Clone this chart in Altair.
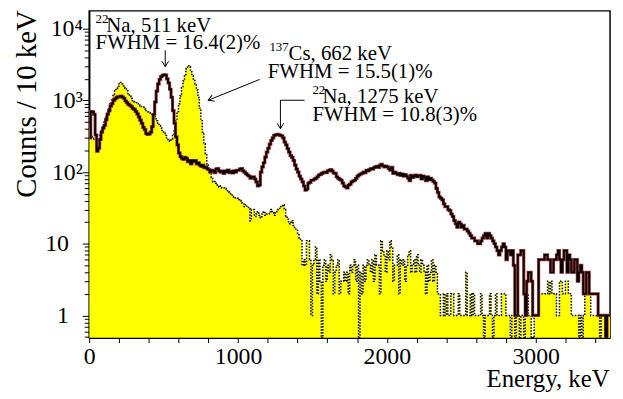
import altair as alt
import pandas as pd

# ---------------- data (10 keV bins, 0-3500 keV) ----------------
bin_width = 10

na22_counts = [
    300, 700, 690, 640, 330, 195, 215, 285, 360, 410,
    450, 540, 640, 720, 830, 900, 1000, 1050, 1090, 1120,
    1130, 1150, 1110, 1070, 980, 930, 880, 850, 820, 770,
    750, 700, 650, 590, 530, 480, 420, 390, 345, 335,
    340, 360, 430, 640, 950, 1350, 1700, 1960, 2150, 2240,
    2280, 2250, 2000, 1750, 1430, 1100, 720, 480, 310, 240,
    185, 165, 155, 150, 160, 155, 140, 145, 130, 145,
    140, 145, 130, 135, 125, 120, 125, 115, 118, 112,
    108, 100, 106, 104, 98, 110, 112, 104, 100, 103,
    96, 104, 100, 107, 98, 102, 97, 104, 100, 106,
    106, 110, 112, 104, 100, 95, 91, 88, 82, 85,
    86, 80, 73, 64, 66, 100, 118, 135, 162, 190,
    215, 245, 276, 300, 324, 330, 335, 332, 325, 320,
    300, 262, 240, 212, 190, 170, 160, 145, 125, 110,
    100, 88, 80, 73, 64, 56, 58, 70, 72, 77,
    77, 80, 82, 86, 91, 93, 96, 98, 100, 98,
    104, 106, 108, 103, 97, 96, 86, 82, 79, 77,
    70, 64, 62, 60, 66, 68, 73, 75, 77, 82,
    88, 91, 94, 96, 100, 98, 106, 104, 108, 112,
    110, 115, 118, 120, 116, 124, 128, 122, 118, 121,
    118, 112, 106, 116, 96, 100, 96, 92, 96, 90,
    94, 88, 92, 88, 82, 76, 90, 84, 88, 91,
    86, 88, 90, 80, 88, 84, 76, 86, 78, 82,
    78, 74, 70, 59, 52, 45, 43, 41, 36, 33,
    33, 30, 29, 26, 24, 21, 19, 17, 20, 19,
    17, 18, 16, 16, 15, 14, 13, 12, 12, 11,
    11, 10, 10, 11, 12, 13, 14, 12, 14, 13,
    12, 11, 10, 9, 8, 7, 8, 9, 10, 9,
    6, 8, 8, 7, 8, 5, 1, 1, 7, 7,
    8, 8, 2, 1, 3, 4, 4, 3, 1, 1,
    1, 1, 6, 6, 6, 6, 7, 7, 6, 6,
    4, 4, 6, 6, 7, 8, 6, 4, 6, 8,
    8, 4, 7, 6, 4, 4, 6, 6, 3, 4,
    5, 4, 2, 2, 4, 4, 2, 2, 2, 2,
    2, 2, 1, 1, 1, 1, 1, 0, 1, 1,
]

cs137_counts = [
    420, 330, 300, 290, 285, 280, 295, 330, 380, 430,
    500, 580, 680, 790, 900, 1050, 1200, 1350, 1450, 1580,
    1700, 1770, 1700, 1600, 1480, 1360, 1250, 1150, 1060, 990,
    960, 930, 900, 860, 840, 820, 800, 760, 720, 690,
    675, 660, 640, 620, 590, 520, 480, 445, 410, 380,
    350, 324, 300, 275, 270, 290, 324, 400, 520, 700,
    900, 1150, 1500, 1860, 2300, 2750, 3050, 2950, 2500, 2200,
    1900, 1700, 1400, 1100, 780, 521, 360, 248, 180, 131,
    110, 96, 84, 73, 74, 70, 66, 62, 64, 60,
    60, 59, 55, 53, 52, 50, 48, 45, 44, 43,
    41, 40, 37, 36, 33, 35, 32, 31, 21, 30,
    30, 24, 26, 28, 25, 23, 26, 28, 25, 26,
    26, 28, 30, 27, 25, 28, 30, 31, 33, 34,
    35, 30, 24, 22, 19, 20, 21, 18, 16, 16,
    14, 12, 11, 5, 6, 5, 11, 11, 6, 1,
    5, 6, 9, 2, 6, 3, 0, 5, 6, 3,
    5, 4, 7, 6, 2, 4, 5, 6, 2, 3,
    3, 4, 3, 4, 2, 5, 4, 5, 6, 3,
    5, 0, 4, 2, 5, 3, 5, 6, 5, 4,
    6, 3, 7, 5, 5, 2, 11, 8, 7, 4,
    8, 6, 11, 9, 3, 5, 5, 7, 2, 6,
    5, 6, 3, 5, 7, 8, 4, 5, 6, 4,
    7, 5, 4, 6, 5, 4, 2, 5, 3, 4,
    6, 3, 5, 4, 2, 2, 1, 1, 2, 1,
    2, 1, 1, 2, 2, 1, 1, 1, 2, 1,
    1, 1, 1, 4, 1, 1, 2, 1, 2, 1,
    1, 1, 1, 2, 1, 0, 1, 1, 1, 2,
    1, 0, 1, 2, 1, 1, 1, 2, 2, 2,
    1, 1, 1, 0, 1, 1, 0, 1, 1, 0,
    1, 1, 0, 1, 2, 1, 1, 0, 0, 1,
    1, 1, 2, 2, 2, 2, 2, 2, 3, 2,
    3, 2, 2, 2, 1, 1, 3, 3, 2, 2,
    3, 3, 2, 2, 1, 1, 1, 1, 1, 0,
    1, 0, 1, 2, 2, 2, 2, 1, 1, 1,
    1, 1, 1, 0, 1, 1, 1, 0, 1, 1,
]

# annotations: main text lines
ann_text = ["Na, 511 keV", "FWHM = 16.4(2)%", "Cs, 662 keV",
            "FWHM = 15.5(1)%", "Na, 1275 keV", "FWHM = 10.8(3)%"]
ann_x = [115, 43, 1340, 1200, 1567, 1500]
ann_y = [9100, 5250, 3700, 2060, 931, 509]
# superscript mass numbers
sup_text = ["22", "137", "22"]
sup_x = [43, 1211, 1500]
sup_y = [12100, 4920, 1240]

arrow_x = [511, 1145, 1285, 1285]
arrow_y = [5000, 1960, 1005, 1005]
arrow_x2 = [511, 800, 1285, 1447]
arrow_y2 = [2950, 1005, 403, 1005]
head_x = [511, 800, 1285]
head_y = [2950, 1005, 403]
head_angle = [0, 68, 0]

x_tick_values = list(range(0, 3501, 200))
x_label_values = [0, 1000, 2000, 3000]
y_label_values = [1, 10, 100, 1000, 10000]
y_label_texts = ["1", "10", "10²", "10³", "10⁴"]

# ---------------- layout constants ----------------
FONT = "Liberation Serif"
W, H = 526, 330
X_DOMAIN = [0, 3500]
Y_DOMAIN = [0.49, 17730]
FLOOR = 0.3  # empty bins drawn to the bottom (clipped)

edges = [i * bin_width for i in range(len(na22_counts) + 1)]


def step_df(counts):
    vals = [c if c > 0 else FLOOR for c in counts]
    vals = vals + [vals[-1]]
    return pd.DataFrame({"energy": edges, "counts": vals, "base": [FLOOR] * len(edges)})


na_df = step_df(na22_counts)
cs_df = step_df(cs137_counts)

decades = [0.1, 1, 10, 100, 1000, 10000]
y_tick_values = [m * d for d in decades for m in range(1, 10)
                 if Y_DOMAIN[0] <= m * d <= Y_DOMAIN[1]]

y_label_expr = " : ".join(
    f"datum.value == {v} ? '{t}'" for v, t in zip(y_label_values, y_label_texts)
) + " : ''"
x_label_expr = " : ".join(
    f"datum.value == {v} ? '{v}'" for v in x_label_values
) + " : ''"
major_test = "indexof([" + ",".join(str(v) for v in y_label_values) + "], datum.value) >= 0"
plain_test = "datum.value == 1 || datum.value == 10"

x_axis = alt.Axis(
    values=x_tick_values, labelExpr=x_label_expr, title="Energy, keV",
    grid=False, tickSize=5, tickColor="black", tickWidth=1,
    domainColor="black", domainWidth=1.5,
    labelFont=FONT, labelFontSize=24, labelColor="black", labelPadding=2,
    labelFlush=False, labelOverlap=False,
    titleFont=FONT, titleFontSize=25, titleFontWeight="normal", titleColor="black",
    titleAnchor="end", titleAlign="right", titleBaseline="alphabetic",
    titleX=525, titleY=49,
)
y_axis = alt.Axis(
    values=y_tick_values, labelExpr=y_label_expr, title="Counts / 10 keV",
    grid=False,
    tickSize={"condition": {"test": major_test, "value": 7}, "value": 5},
    tickColor="black", tickWidth=1,
    domainColor="black", domainWidth=1.5,
    labelFont=FONT, labelFontSize=24, labelColor="black",
    labelPadding={"condition": {"test": plain_test, "value": 14}, "value": 0},
    labelOverlap=False, labelFlush=False,
    titleFont=FONT, titleFontSize=29, titleFontWeight="normal", titleColor="black",
    titleAngle=270, titleAnchor="end", titleAlign="right", titleBaseline="alphabetic",
    titleX=-54, titleY=-1,
)

x_scale = alt.Scale(domain=X_DOMAIN, nice=False, zero=False)
y_scale = alt.Scale(type="log", domain=Y_DOMAIN, nice=False)

X = alt.X("energy:Q", scale=x_scale, axis=x_axis)
Y = alt.Y("counts:Q", scale=y_scale, axis=y_axis)

cs_area = alt.Chart(cs_df).mark_area(
    interpolate="step-after", color="#ffff00", opacity=1, clip=True
).encode(x=X, y=Y, y2="base:Q")

cs_line = alt.Chart(cs_df).mark_line(
    interpolate="step-after", stroke="black", strokeWidth=1.5,
    strokeDash=[1.5, 1.5], clip=True
).encode(x=X, y=Y)

na_red = alt.Chart(na_df).mark_line(
    interpolate="step-after", stroke="#a83a3a", strokeWidth=3.2, clip=True
).encode(x=X, y=Y)

na_black = alt.Chart(na_df).mark_line(
    interpolate="step-after", stroke="black", strokeWidth=1.8, clip=True
).encode(x=X, y=Y)

arrows_df = pd.DataFrame({"energy": arrow_x, "counts": arrow_y,
                          "energy2": arrow_x2, "counts2": arrow_y2})
arrows = alt.Chart(arrows_df).mark_rule(color="black", strokeWidth=1).encode(
    x=X, y=Y, x2="energy2:Q", y2="counts2:Q"
)

heads_df = pd.DataFrame({"energy": head_x, "counts": head_y, "angle": head_angle})
heads = alt.Chart(heads_df).mark_point(
    shape="M -0.6 -1 L 0 0 L 0.6 -1", filled=False, stroke="black",
    strokeWidth=1, size=121, opacity=1
).encode(x=X, y=Y, angle=alt.Angle("angle:Q", scale=None))

text_df = pd.DataFrame({"energy": ann_x, "counts": ann_y, "label": ann_text})
texts = alt.Chart(text_df).mark_text(
    font=FONT, fontSize=21, align="left", baseline="alphabetic", color="black"
).encode(x=X, y=Y, text="label:N")

sup_df = pd.DataFrame({"energy": sup_x, "counts": sup_y, "label": sup_text})
sups = alt.Chart(sup_df).mark_text(
    font=FONT, fontSize=13, align="left", baseline="alphabetic", color="black"
).encode(x=X, y=Y, text="label:N")

chart = alt.layer(cs_area, cs_line, na_red, na_black, arrows, heads, texts, sups).properties(
    width=W, height=H,
    autosize=alt.AutoSizeParams(type="none"),
    padding={"left": 82, "top": 1, "right": 5, "bottom": 55},
).configure_view(stroke="black", strokeWidth=1.5)

chart.save("out.html", embed_options={"renderer": "svg", "actions": False})
